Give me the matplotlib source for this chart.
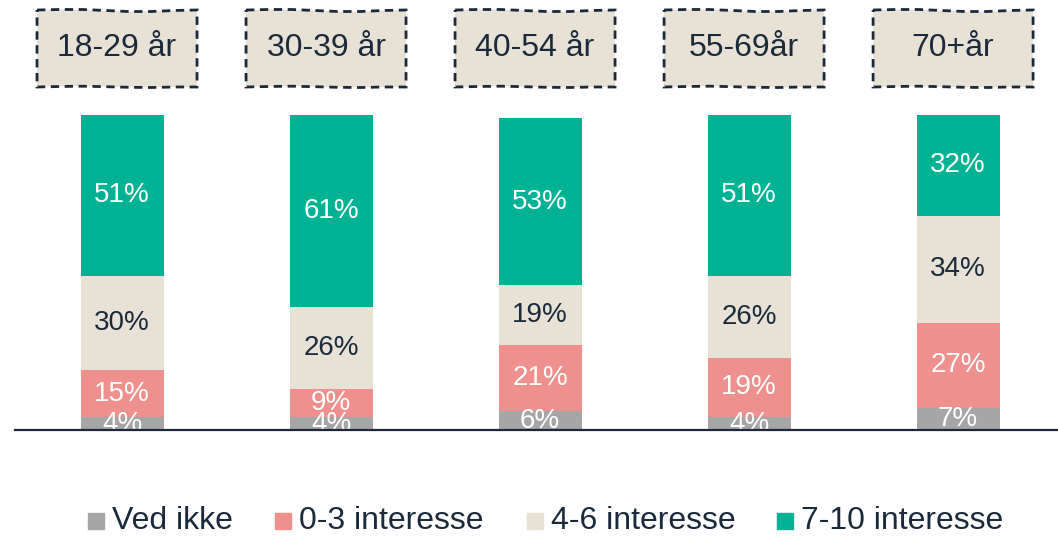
import matplotlib
matplotlib.use("Agg")
import matplotlib.pyplot as plt
from matplotlib.patches import Polygon, Rectangle
import numpy as np

plt.rcParams['font.family'] = ['Liberation Sans', 'DejaVu Sans']

groups = ["18-29 år", "30-39 år", "40-54 år", "55-69år", "70+år"]
series_names = ["Ved ikke", "0-3 interesse", "4-6 interesse", "7-10 interesse"]
ved_ikke = [4, 4, 6, 4, 7]
low = [15, 9, 21, 19, 27]
mid = [30, 26, 19, 26, 34]
high = [51, 61, 53, 51, 32]

colors = ["#A6A6A6", "#EE908E", "#E7E1D6", "#00B294"]
label_colors = ["white", "white", "#1B2A3A", "white"]
navy = "#1B2A3A"

fig = plt.figure(figsize=(10.58, 5.36), dpi=100)
ax = fig.add_axes([15 / 1058, 106 / 536, 1043 / 1058, 315 / 536])
ax.set_xlim(-0.512, 4.478)
ax.set_ylim(0, 100)
ax.axis("off")

x = np.arange(len(groups))
bottom = np.zeros(len(groups))
for vals, col, lc in zip([ved_ikke, low, mid, high], colors, label_colors):
    vals = np.array(vals, dtype=float)
    ax.bar(x, vals, bottom=bottom, width=0.397, color=col, zorder=2)
    for xi, b, v in zip(x, bottom, vals):
        ax.text(xi, b + v / 2, f"{int(v)}%", ha="center", va="center",
                fontsize=20, color=lc, zorder=3)
    bottom += vals

# baseline
ax.plot([-0.512, 4.478], [0, 0], color=navy, lw=1.6, zorder=4, clip_on=False)

# white mask below the baseline hides overflowing labels
ax.add_patch(Rectangle((-0.6, -20), 5.2, 20, color="white", zorder=3.5, clip_on=False))

# header boxes with hand-drawn dashed outline
W, H = fig.get_size_inches() * fig.dpi
wave_top = [0, 0.5, 0.5, -0.5, -1.5, -1.5, -0.5, 0.0]
wave_bot = [0, 0.5, 0.8, 0.3, -0.3, -0.5, 0.0, 0.0]
for xi, name in zip(x, groups):
    cx_disp = ax.transData.transform((xi, 0))[0]
    cx = cx_disp - 5
    left, right = cx - 80, cx + 80
    top, bot = H - 10, H - 87
    n = len(wave_top)
    xs = np.linspace(left, right, n)
    pts = [(xx, top + d) for xx, d in zip(xs, wave_top)]
    pts += [(right, bot)]
    pts += [(xx, bot + d) for xx, d in zip(xs[::-1], wave_bot[::-1])]
    pts = [(px / W, py / H) for px, py in pts]
    poly = Polygon(pts, closed=True, transform=fig.transFigure,
                   facecolor="#E7E1D6", edgecolor=navy, lw=2.0,
                   linestyle=(0, (3, 2)))
    fig.patches.append(poly)
    fig.text(cx / W, (H - 48) / H, name, ha="center", va="center",
             fontsize=23, color=navy)

# legend
leg_items = [(88, series_names[0], colors[0]), (275, series_names[1], colors[1]),
             (527, series_names[2], colors[2]), (777, series_names[3], colors[3])]
ly = H - 521
for lx, name, col in leg_items:
    fig.patches.append(Rectangle((lx / W, (ly - 8) / H), 16 / W, 16 / H,
                                 transform=fig.transFigure, color=col))
    fig.text((lx + 24) / W, ly / H, name, ha="left", va="center",
             fontsize=23, color=navy)

fig.savefig("out.png", dpi=100)
